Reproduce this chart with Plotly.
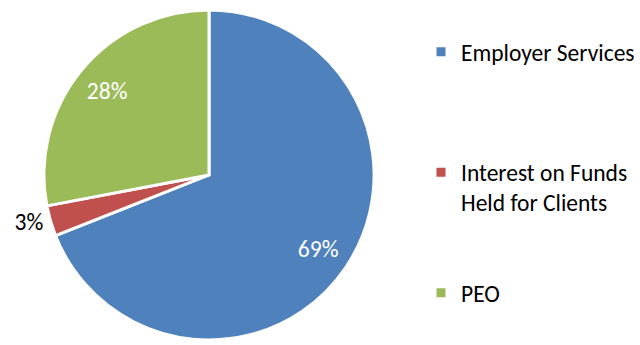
import plotly.graph_objects as go

labels = ["Employer Services", "Interest on Funds<br>Held for Clients", "PEO"]
values = [69, 3, 28]
colors = ["#4F81BD", "#C0504D", "#9BBB59"]

FONT = "Calibri, Carlito, Lato, sans-serif"
FS = 23.5          # glyph size
LEG_FS = 22.6      # legend line-spacing base size
DOMAIN = dict(x=[42 / 640, 376 / 640], y=[1 / 345, 335 / 345])

legend_pad = ["<br> <br> <br> ", "<br> <br> ", ""]
legend_labels = [
    "".join(f'<span style="font-size:{FS}px">{line}</span><br>' for line in lab.split("<br>"))[:-4] + pad
    for lab, pad in zip(labels, legend_pad)
]

# main pie: slices, legend, outside label for the small slice
fig = go.Figure(go.Pie(
    labels=legend_labels,
    values=values,
    sort=False,
    direction="clockwise",
    rotation=0,
    marker=dict(colors=colors, line=dict(color="#FFFFFF", width=3)),
    texttemplate="%{percent:.0%}",
    textposition=["none", "outside", "none"],
    textfont=dict(family=FONT, size=FS, color="#000000"),
    domain=DOMAIN,
    hoverinfo="percent",
))

# transparent ring carrying the inside percentage labels near the rim
fig.add_trace(go.Pie(
    labels=legend_labels,
    values=values,
    sort=False,
    direction="clockwise",
    rotation=0,
    hole=0.6,
    marker=dict(colors=["rgba(0,0,0,0)"] * 3, line=dict(width=0)),
    texttemplate="%{percent:.0%}",
    textposition=["inside", "none", "inside"],
    insidetextorientation="horizontal",
    textfont=dict(family=FONT, size=FS, color="#FFFFFF"),
    domain=DOMAIN,
    showlegend=False,
    hoverinfo="skip",
))

fig.update_layout(
    width=640, height=345,
    margin=dict(l=0, r=0, t=0, b=0),
    paper_bgcolor="#FFFFFF",
    showlegend=True,
    legend=dict(
        x=421 / 640, xanchor="left",
        y=1 - 31 / 345, yanchor="top",
        valign="top",
        font=dict(family=FONT, size=LEG_FS, color="#000000"),
        bgcolor="rgba(0,0,0,0)",
    ),
)

fig.write_html("out.html")
